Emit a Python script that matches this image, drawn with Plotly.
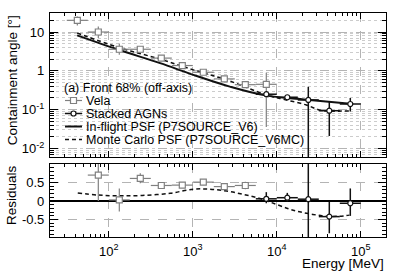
import plotly.graph_objects as go

# ---------------- data ----------------
vela_E = [42.2, 75.0, 133.4, 237.1, 421.7, 749.9, 1333.5, 2371.4, 4217.0, 7498.9]
vela_lo = [31.6, 56.2, 100.0, 177.8, 316.2, 562.3, 1000.0, 1778.3, 3162.3, 5623.4]
vela_hi = [56.2, 100.0, 177.8, 316.2, 562.3, 1000.0, 1778.3, 3162.3, 5623.4, 10000.0]
vela_psf = [20.0, 10.0, 3.6, 3.6, 2.13, 1.37, 0.92, 0.62, 0.44, 0.45]
vela_up = [5.0, 3.9, 1.5, 0.3, 0.1, 0.05, 0.04, 0.04, 0.03, 0.44]
vela_dn = [5.2, 3.0, 1.0, 0.3, 0.1, 0.05, 0.04, 0.04, 0.03, 0.414]

vela_res_E = [75.0, 133.4, 237.1, 421.7, 749.9, 1333.5, 2371.4, 4217.0]
vela_res_lo = [56.2, 100.0, 177.8, 316.2, 562.3, 1000.0, 1778.3, 3162.3]
vela_res_hi = [100.0, 177.8, 316.2, 562.3, 1000.0, 1778.3, 3162.3, 5623.4]
vela_res = [0.70, 0.03, 0.61, 0.42, 0.43, 0.51, 0.39, 0.42]
vela_res_up = [0.35, 0.31, 0.14, 0.09, 0.03, 0.03, 0.09, 0.10]
vela_res_dn = [0.70, 0.31, 0.13, 0.09, 0.03, 0.03, 0.09, 0.10]

agn_E = [7498.9, 13335.2, 23713.7, 42169.7, 74989.4]
agn_lo = [5623.4, 10000.0, 17782.8, 31622.8, 56234.1]
agn_hi = [10000.0, 17782.8, 31622.8, 56234.1, 100000.0]
agn_psf = [0.25, 0.209, 0.178, 0.094, 0.14]
agn_up = [0.02, 0.015, 0.21, 0.067, 0.06]
agn_dn = [0.02, 0.015, 0.1775, 0.073, 0.05]
agn_res = [0.06, 0.09, 0.05, -0.42, -0.06]
agn_res_up = [0.18, 0.13, 2.0, 0.40, 0.40]
agn_res_dn = [0.12, 0.11, 2.0, 0.45, 0.34]

inflight_E = [42.0, 130.6, 408.0, 1014.0, 2761.0, 7534.0, 24547.0, 75000.0]
inflight_psf = [8.17, 3.49, 1.58, 0.789, 0.393, 0.230, 0.178, 0.142]

mc_E = [42.0, 131.0, 408.0, 1014.0, 2523.0, 7534.0, 13000.0, 22440.0, 32280.0, 42460.0, 75000.0]
mc_psf = [9.42, 4.0, 2.0, 1.06, 0.585, 0.240, 0.178, 0.132, 0.098, 0.092, 0.093]

mc_res_E = [42.7, 75.7, 137.0, 250.0, 537.0, 1014.0, 1600.0, 2523.0, 3972.0, 6266.0,
            9886.0, 14220.0, 18700.0, 26850.0, 38730.0, 55720.0, 73280.0]
mc_res = [0.22, 0.16, 0.14, 0.15, 0.21, 0.32, 0.32, 0.27, 0.18, 0.07,
          -0.09, -0.22, -0.29, -0.36, -0.41, -0.41, -0.38]

top_ticks = [0.01, 0.1, 1, 10]
top_ticktext = ["10<sup>-2</sup>", "10<sup>-1</sup>", "1", "10"]
res_ticks = [-0.5, 0, 0.5]
res_ticktext = ["-0.5", "0", "0.5"]
x_ticks = [100, 1000, 10000, 100000]
x_ticktext = ["10<sup>2</sup>", "10<sup>3</sup>", "10<sup>4</sup>", "10<sup>5</sup>"]

legend_title = "(a) Front 68% (off-axis)"
legend_labels = ["Vela", "Stacked AGNs", "In-flight PSF (P7SOURCE_V6)", "Monte Carlo PSF (P7SOURCE_V6MC)"]

# ---------------- figure ----------------
GRAY = "#808080"
BLACK = "#111111"
FONT = "Liberation Sans"
DASH = "4px,3px"

def minus(v, lo):
    return [a - b for a, b in zip(v, lo)]

fig = go.Figure()

fig.add_trace(go.Scatter(x=inflight_E, y=inflight_psf, mode="lines", line=dict(color=BLACK, width=2, shape="spline"),
                         xaxis="x", yaxis="y", showlegend=False))
fig.add_trace(go.Scatter(x=mc_E, y=mc_psf, mode="lines", line=dict(color=BLACK, width=1.5, dash=DASH, shape="spline"),
                         xaxis="x", yaxis="y", showlegend=False))
fig.add_trace(go.Scatter(
    x=vela_E, y=vela_psf, mode="markers", xaxis="x", yaxis="y", showlegend=False,
    marker=dict(symbol="square", size=6, color="white", line=dict(color=GRAY, width=1.2)),
    error_x=dict(type="data", symmetric=False, array=minus(vela_hi, vela_E), arrayminus=minus(vela_E, vela_lo),
                 color=GRAY, thickness=1.2, width=0),
    error_y=dict(type="data", symmetric=False, array=vela_up, arrayminus=vela_dn, color=GRAY, thickness=1.2, width=0)))
fig.add_trace(go.Scatter(
    x=agn_E, y=agn_psf, mode="markers", xaxis="x", yaxis="y", showlegend=False,
    marker=dict(symbol="circle", size=5, color="white", line=dict(color=BLACK, width=1.2)),
    error_x=dict(type="data", symmetric=False, array=minus(agn_hi, agn_E), arrayminus=minus(agn_E, agn_lo),
                 color=BLACK, thickness=1.5, width=0),
    error_y=dict(type="data", symmetric=False, array=agn_up, arrayminus=agn_dn, color=BLACK, thickness=1.5, width=0)))

fig.add_trace(go.Scatter(x=mc_res_E, y=mc_res, mode="lines", line=dict(color=BLACK, width=1.5, dash=DASH, shape="spline"),
                         xaxis="x2", yaxis="y2", showlegend=False))
fig.add_trace(go.Scatter(
    x=vela_res_E, y=vela_res, mode="markers", xaxis="x2", yaxis="y2", showlegend=False,
    marker=dict(symbol="square", size=6, color="white", line=dict(color=GRAY, width=1.2)),
    error_x=dict(type="data", symmetric=False, array=minus(vela_res_hi, vela_res_E), arrayminus=minus(vela_res_E, vela_res_lo),
                 color=GRAY, thickness=1.2, width=0),
    error_y=dict(type="data", symmetric=False, array=vela_res_up, arrayminus=vela_res_dn, color=GRAY, thickness=1.2, width=0)))
fig.add_trace(go.Scatter(
    x=agn_E, y=agn_res, mode="markers", xaxis="x2", yaxis="y2", showlegend=False,
    marker=dict(symbol="circle", size=5, color="white", line=dict(color=BLACK, width=1.2)),
    error_x=dict(type="data", symmetric=False, array=minus(agn_hi, agn_E), arrayminus=minus(agn_E, agn_lo),
                 color=BLACK, thickness=1.5, width=0),
    error_y=dict(type="data", symmetric=False, array=agn_res_up, arrayminus=agn_res_dn, color=BLACK, thickness=1.5, width=0)))

axis_common = dict(showline=True, linecolor="black", linewidth=1.2, mirror="allticks", ticks="inside",
                   tickcolor="black", tickfont=dict(family=FONT, size=13, color="black"), automargin=False)
xrange = [1.3, 5.3]
grid = dict(showgrid=True, gridcolor="#b4b4b4", gridwidth=1, griddash="dash")

fig.update_layout(
    width=399, height=273, margin=dict(l=50, r=13, t=13, b=36, autoexpand=False),
    paper_bgcolor="white", plot_bgcolor="white",
    font=dict(family=FONT, size=12, color="black"),
    xaxis=dict(type="log", range=xrange, domain=[0, 1], anchor="y", tickvals=x_ticks, ticktext=x_ticktext,
               showticklabels=False, ticklen=6, zeroline=False,
               minor=dict(dtick="D1", ticks="inside", ticklen=3, tickcolor="black", showgrid=False),
               **grid, **axis_common),
    yaxis=dict(type="log", range=[-2.22, 1.49], domain=[0.357, 1], anchor="x", tickvals=top_ticks,
               ticktext=top_ticktext, ticklen=8, ticklabelstandoff=2, zeroline=False,
               minor=dict(dtick="D1", ticks="inside", ticklen=4, tickcolor="black", showgrid=True,
                          gridcolor="#cccccc", griddash="dot", gridwidth=1),
               **grid, **axis_common),
    xaxis2=dict(type="log", range=xrange, domain=[0, 1], anchor="y2", tickvals=x_ticks, ticktext=x_ticktext,
                ticklen=6, zeroline=False, ticklabelstandoff=2,
                minor=dict(dtick="D1", ticks="inside", ticklen=3, tickcolor="black", showgrid=False),
                **grid, **axis_common),
    yaxis2=dict(range=[-0.97, 1.0], domain=[0, 0.326], anchor="x2", tickvals=res_ticks, ticktext=res_ticktext,
                ticklen=8, ticklabelstandoff=2,
                minor=dict(dtick=0.1, ticks="inside", ticklen=4, tickcolor="black", showgrid=False),
                zeroline=True, zerolinecolor="black", zerolinewidth=1.6,
                **grid, **axis_common),
)

fig.add_annotation(text="Containment angle [°]", xref="paper", yref="paper", x=-0.113, y=0.70,
                   textangle=-90, showarrow=False, xanchor="center", yanchor="middle",
                   font=dict(family=FONT, size=13.5, color="black"))
fig.add_annotation(text="Residuals", xref="paper", yref="paper", x=-0.116, y=0.1875,
                   textangle=-90, showarrow=False, xanchor="center", yanchor="middle",
                   font=dict(family=FONT, size=13.5, color="black"))
fig.add_annotation(text="Energy [MeV]", xref="paper", yref="paper", x=1.0, y=-0.119,
                   showarrow=False, xanchor="right", yanchor="middle",
                   font=dict(family=FONT, size=13.5, color="black"))

def px_x(p):
    return (p - 50) / 336.0

def px_y(p):
    return (237 - p) / 224.0

fig.add_annotation(text=legend_title, xref="paper", yref="paper", x=px_x(62), y=px_y(88), showarrow=False,
                   xanchor="left", yanchor="middle", font=dict(family=FONT, size=12.5, color="black"))
rows = [100.5, 113.5, 126.5, 139.5]
styles = [dict(color=GRAY, width=1.2), dict(color=BLACK, width=1.5), dict(color=BLACK, width=2),
          dict(color=BLACK, width=1.5, dash=DASH)]
for i, (lab, yy, st) in enumerate(zip(legend_labels, rows, styles)):
    fig.add_shape(type="line", xref="paper", yref="paper", x0=px_x(65), x1=px_x(82), y0=px_y(yy), y1=px_y(yy),
                  line=st)
    if i == 0:
        fig.add_shape(type="rect", xref="paper", yref="paper", xsizemode="pixel", ysizemode="pixel",
                      xanchor=px_x(73.5), yanchor=px_y(yy), x0=-3, x1=3, y0=-3, y1=3,
                      fillcolor="white", line=dict(color=GRAY, width=1.2))
    if i == 1:
        fig.add_shape(type="circle", xref="paper", yref="paper", xsizemode="pixel", ysizemode="pixel",
                      xanchor=px_x(73.5), yanchor=px_y(yy), x0=-2.5, x1=2.5, y0=-2.5, y1=2.5,
                      fillcolor="white", line=dict(color=BLACK, width=1.2))
    fig.add_annotation(text=lab, xref="paper", yref="paper", x=px_x(84), y=px_y(yy), showarrow=False,
                       xanchor="left", yanchor="middle", font=dict(family=FONT, size=12.5, color="black"))

fig.write_html("out.html", config={"displayModeBar": False},
               post_script="document.body.style.margin='0px';")
